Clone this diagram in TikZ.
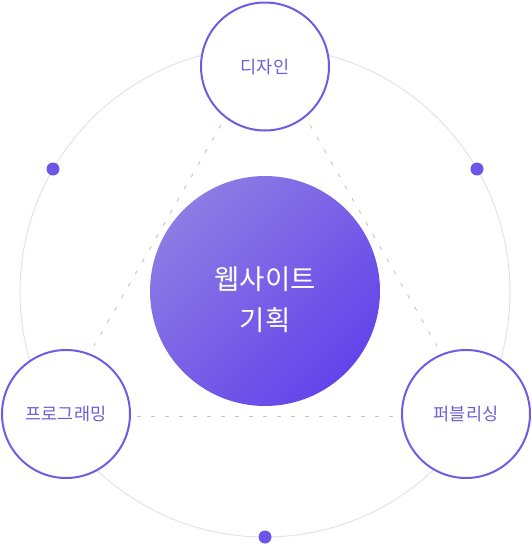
\documentclass[tikz,border=0pt]{standalone}
\usepackage{fontspec}
\setmainfont{Noto Sans CJK KR}
\definecolor{orbitc}{HTML}{E3E0F3}
\definecolor{linkc}{HTML}{C8C8C8}
\definecolor{stagec}{HTML}{6F5CE6}
\definecolor{labelc}{HTML}{6D5DD6}
\definecolor{dotc}{HTML}{6C55E8}
\definecolor{coreA}{HTML}{8C7CE4}
\definecolor{coreB}{HTML}{6344EA}
\begin{document}
\begin{tikzpicture}[x=1pt,y=-1pt,
  orbit/.style={circle, draw=orbitc, line width=1pt, minimum size=490pt, inner sep=0pt},
  link/.style={draw=linkc, line width=1pt, dash pattern=on 4pt off 10pt},
  stage/.style={circle, draw=stagec, line width=2pt, fill=white, minimum size=128pt, inner sep=0pt, text=labelc, font=\fontsize{17.5}{21}\selectfont},
  dotm/.style={circle, fill=dotc, minimum size=13pt, inner sep=0pt},
  core/.style={circle, minimum size=230pt, inner sep=0pt, top color=coreA, bottom color=coreB, shading angle=45},
  coretext/.style={text=white, align=center, font=\fontsize{27.5}{41}\selectfont}
]
\useasboundingbox (0,0) rectangle (532,544);
\node[orbit] (ring) at (265,292) {};
\coordinate (d1) at (221,125);
\coordinate (d2) at (94,346);
\coordinate (d3) at (310,125);
\coordinate (d4) at (437,346);
\coordinate (d5) at (137,416);
\coordinate (d6) at (394,416);
\draw[link] (d1) -- (d2);
\draw[link] (d3) -- (d4);
\draw[link] (d5) -- (d6);
\node[core] (core) at (265,291) {};
\node[coretext] (title) at (265,300) {웹사이트\\기획};
\node[dotm] (dotl) at (53,169) {};
\node[dotm] (dotr) at (477,169) {};
\node[dotm] (dotb) at (265,537) {};
\node[stage] (design) at (265,66.5) {디자인};
\node[stage] (prog) at (66,414) {프로그래밍};
\node[stage] (pub) at (466,414) {퍼블리싱};
\end{tikzpicture}
\end{document}
